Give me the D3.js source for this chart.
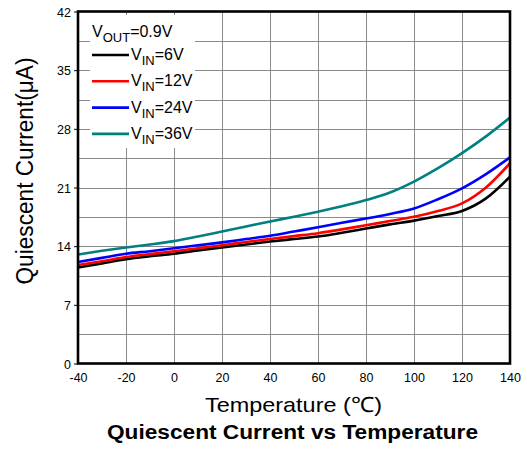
<!DOCTYPE html>
<html>
<head>
<meta charset="utf-8">
<script src="https://cdn.jsdelivr.net/npm/d3@7"></script>
<style>
  html, body { margin: 0; padding: 0; background: #fff; }
  svg { display: block; font-family: "Liberation Sans", Arial, sans-serif; }
</style>
</head>
<body>
<svg id="chart" width="527" height="450"></svg>
<script>
// Temperature sweep (°C) and quiescent current (µA) for each input voltage
const temperatures = [-40, -30, -20, -10, 0, 10, 20, 30, 40, 50, 60, 70, 80, 90, 100, 110, 120, 130, 140];
const vin6  = [11.45, 11.95, 12.45, 12.8, 13.1, 13.5, 13.85, 14.2, 14.55, 14.85, 15.15, 15.6, 16.1, 16.6, 17.05, 17.6, 18.2, 19.7, 22.3];
const vin12 = [11.75, 12.2, 12.7, 13.05, 13.4, 13.75, 14.1, 14.5, 14.85, 15.2, 15.55, 16.0, 16.5, 17.0, 17.5, 18.2, 19.1, 21.0, 23.9];
const vin24 = [12.1, 12.6, 13.1, 13.4, 13.75, 14.1, 14.45, 14.85, 15.25, 15.75, 16.25, 16.8, 17.3, 17.85, 18.5, 19.6, 20.9, 22.6, 24.6];
const vin36 = [13.0, 13.45, 13.85, 14.2, 14.6, 15.15, 15.75, 16.35, 16.95, 17.5, 18.1, 18.75, 19.5, 20.4, 21.7, 23.3, 25.1, 27.1, 29.35];

const seriesNames = ["6V", "12V", "24V", "36V"];
const seriesValues = [vin6, vin12, vin24, vin36];
const seriesColors = ["#000000", "#ff0000", "#0000ff", "#008080"];

const xTicks = [-40, -20, 0, 20, 40, 60, 80, 100, 120, 140];
const yTicks = [0, 7, 14, 21, 28, 35, 42];
const yGrid = d3.range(3.5, 42, 3.5);

const svg = d3.select("#chart");
const plotLeft = 78, plotRight = 510, plotTop = 11.5, plotBottom = 363.5;

const x = d3.scaleLinear().domain([-40, 140]).range([plotLeft, plotRight]);
const y = d3.scaleLinear().domain([0, 42]).range([plotBottom, plotTop]);

// grid
const grid = svg.append("g").attr("stroke", "#8a8a8a").attr("stroke-width", 1);
grid.selectAll("line.h").data(yGrid).join("line")
  .attr("x1", plotLeft).attr("x2", plotRight)
  .attr("y1", d => Math.round(y(d)) + 0.5).attr("y2", d => Math.round(y(d)) + 0.5);
grid.selectAll("line.v").data(xTicks.slice(1, -1)).join("line")
  .attr("y1", plotTop).attr("y2", plotBottom)
  .attr("x1", d => Math.round(x(d)) + 0.5).attr("x2", d => Math.round(x(d)) + 0.5);

// curves
const line = d3.line().curve(d3.curveMonotoneX)
  .x((d, i) => x(temperatures[i])).y(d => y(d));
svg.append("g").selectAll("path").data(seriesValues).join("path")
  .attr("fill", "none")
  .attr("stroke", (d, i) => seriesColors[i])
  .attr("stroke-width", 2.6)
  .attr("d", line);

// axes (plain hyphen for negative labels)
const plain = d => String(d);
const xAxis = svg.append("g").attr("transform", `translate(0,${plotBottom})`)
  .call(d3.axisBottom(x).tickValues(xTicks).tickSize(0).tickPadding(10).tickFormat(plain));
const yAxis = svg.append("g").attr("transform", `translate(${plotLeft},0)`)
  .call(d3.axisLeft(y).tickValues(yTicks).tickSize(4).tickPadding(3).tickFormat(plain));
[xAxis, yAxis].forEach(a => {
  a.select(".domain").remove();
  a.selectAll("text").attr("font-size", 12.5).attr("fill", "#000")
    .attr("font-family", "'Liberation Sans', Arial, sans-serif");
  a.selectAll("line").attr("stroke", "#000");
});
yAxis.selectAll(".tick text").attr("dy", "0.36em");

// frame
svg.append("rect")
  .attr("x", plotLeft).attr("y", plotTop)
  .attr("width", plotRight - plotLeft).attr("height", plotBottom - plotTop)
  .attr("fill", "none").attr("stroke", "#000").attr("stroke-width", 2.6);

// legend
const lg = svg.append("g");
lg.append("rect").attr("x", 90).attr("y", 15).attr("width", 105).attr("height", 133).attr("fill", "#fff");
const vout = lg.append("text").attr("x", 92).attr("y", 37).attr("font-size", 16);
vout.append("tspan").text("V");
vout.append("tspan").attr("dy", 5).attr("font-size", 13).text("OUT");
vout.append("tspan").attr("dy", -5).text("=0.9V");
const rows = lg.selectAll("g.row").data(seriesNames).join("g")
  .attr("transform", (d, i) => `translate(0,${55 + i * 26.3})`);
rows.append("line").attr("x1", 92).attr("x2", 129).attr("y1", 0).attr("y2", 0)
  .attr("stroke", (d, i) => seriesColors[i]).attr("stroke-width", 2.6);
const lt = rows.append("text").attr("x", 131).attr("y", 5).attr("font-size", 16);
lt.append("tspan").text("V");
lt.append("tspan").attr("dy", 5).attr("font-size", 13).text("IN");
lt.append("tspan").attr("dy", -5).text(d => "=" + d);

// titles
svg.append("text").attr("x", 293.5).attr("y", 412).attr("text-anchor", "middle")
  .attr("font-size", 21).attr("textLength", 177).attr("lengthAdjust", "spacingAndGlyphs")
  .text("Temperature (\u2103)");
svg.append("text").attr("transform", "translate(33,171) rotate(-90)")
  .attr("text-anchor", "middle").attr("font-size", 23)
  .attr("textLength", 227).attr("lengthAdjust", "spacingAndGlyphs")
  .text("Quiescent Current(\u03bcA)");
svg.append("text").attr("x", 292.5).attr("y", 439).attr("text-anchor", "middle")
  .attr("font-size", 19.5).attr("font-weight", "bold")
  .attr("textLength", 371).attr("lengthAdjust", "spacingAndGlyphs")
  .text("Quiescent Current vs Temperature");
</script>
</body>
</html>
